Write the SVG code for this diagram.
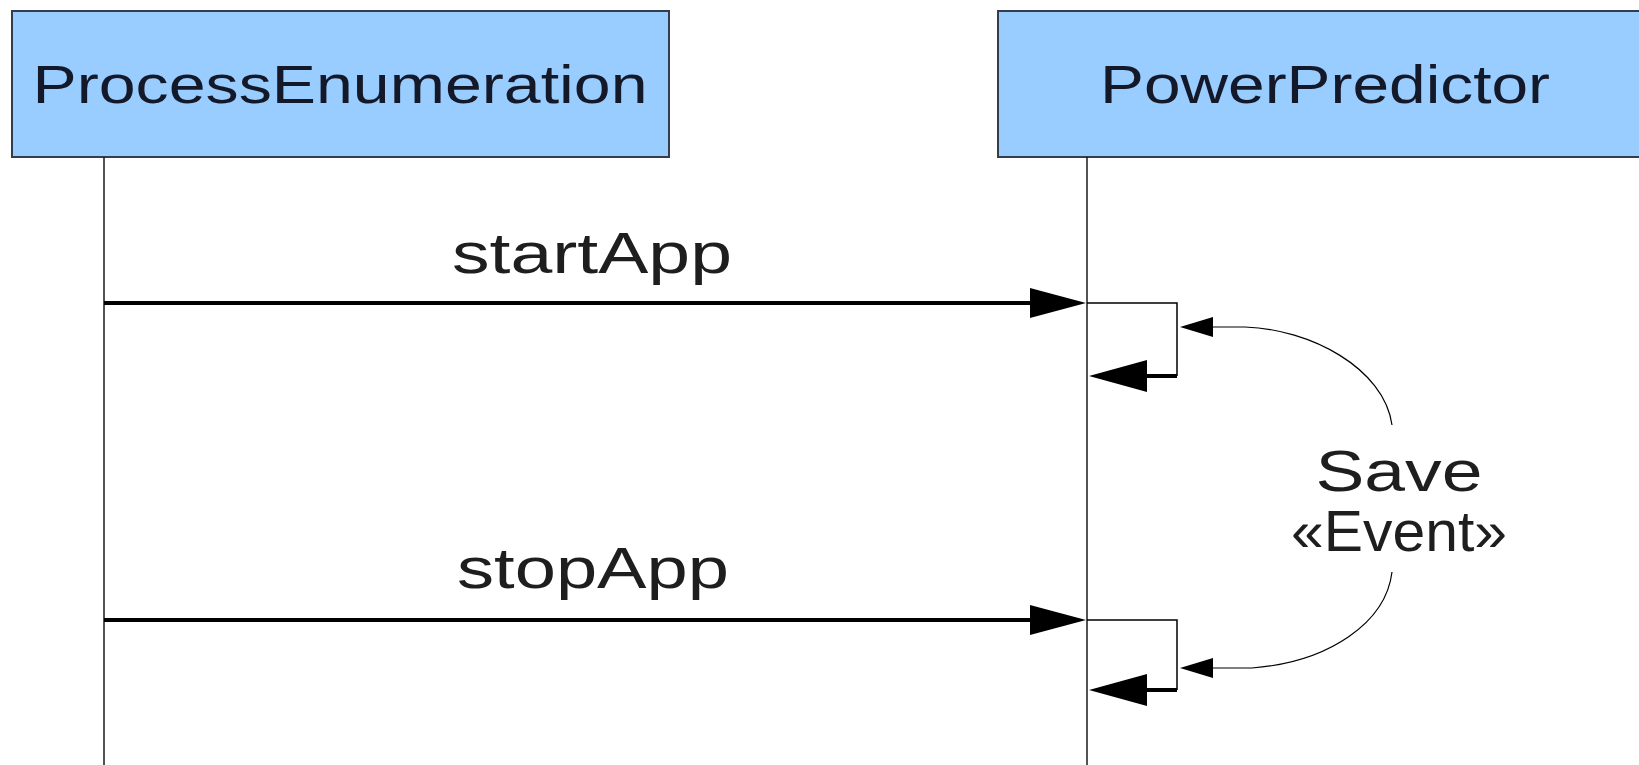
<svg xmlns="http://www.w3.org/2000/svg" width="1639" height="765" viewBox="0 0 1639 765">
<defs>
<style>
.box{fill:#99ccff;stroke:#333d4d;stroke-width:2}
.title{font-family:"Liberation Sans",Arial,sans-serif;font-size:54px;fill:#14192a}
.lbl{font-family:"Liberation Sans",Arial,sans-serif;font-size:57px;fill:#1e1e1e}
.life{stroke:#1a1a1a;stroke-width:1.5;fill:none}
.msg{stroke:#000;stroke-width:4;fill:none}
.thin{stroke:#000;stroke-width:1.5;fill:none}
.curve{stroke:#000;stroke-width:1.2;fill:none}
</style>
</defs>
<rect width="1639" height="765" fill="#ffffff"/>
<g id="node-processenumeration">
<rect class="box" x="12" y="11" width="657" height="146"/>
<text class="title" x="340" y="102.5" text-anchor="middle" textLength="615" lengthAdjust="spacingAndGlyphs">ProcessEnumeration</text>
<line class="life" x1="104" y1="157" x2="104" y2="765"/>
</g>
<g id="node-powerpredictor">
<rect class="box" x="998" y="11" width="660" height="146"/>
<text class="title" x="1325" y="102.5" text-anchor="middle" textLength="450" lengthAdjust="spacingAndGlyphs">PowerPredictor</text>
<line class="life" x1="1087" y1="157" x2="1087" y2="765"/>
</g>
<g id="connectors">
<line class="msg" x1="104" y1="303" x2="1035" y2="303"/>
<polygon points="1030,288 1086,303 1030,318" fill="#000"/>
<text class="lbl" x="592" y="273" text-anchor="middle" textLength="280" lengthAdjust="spacingAndGlyphs">startApp</text>
<line class="msg" x1="104" y1="620" x2="1035" y2="620"/>
<polygon points="1030,605 1086,620 1030,635" fill="#000"/>
<text class="lbl" x="593" y="588" text-anchor="middle" textLength="272" lengthAdjust="spacingAndGlyphs">stopApp</text>
<polyline class="thin" points="1087,303 1177,303 1177,376"/>
<line class="msg" x1="1177" y1="376" x2="1140" y2="376"/>
<polygon points="1147,360 1089,376 1147,392" fill="#000"/>
<polyline class="thin" points="1087,620 1177,620 1177,690"/>
<line class="msg" x1="1177" y1="690" x2="1140" y2="690"/>
<polygon points="1147,674 1089,690 1147,706" fill="#000"/>
<path class="curve" d="M1212,327 L1245,327 C1310,329 1384,368 1392,425"/>
<polygon points="1213,317 1180,327 1213,337" fill="#000"/>
<path class="curve" d="M1212,668 L1252,668 C1330,662 1386,622 1392,572"/>
<polygon points="1213,658 1180,668 1213,678" fill="#000"/>
<text class="lbl" x="1399" y="491" text-anchor="middle" font-size="60" textLength="167" lengthAdjust="spacingAndGlyphs">Save</text>
<text class="lbl" x="1399" y="551" text-anchor="middle" font-size="58" textLength="216" lengthAdjust="spacingAndGlyphs">«Event»</text>
</g>
</svg>
